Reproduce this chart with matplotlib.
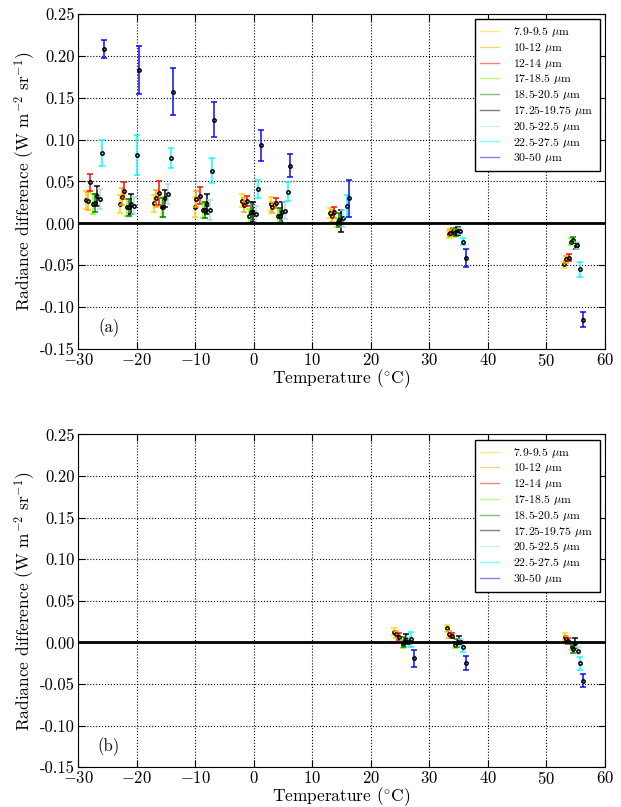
import matplotlib
matplotlib.use("Agg")
import matplotlib.pyplot as plt
import numpy as np

plt.rcParams['font.family'] = ['cmr10', 'DejaVu Serif']
plt.rcParams['mathtext.fontset'] = 'cm'
plt.rcParams['axes.formatter.use_mathtext'] = True
plt.rcParams['axes.unicode_minus'] = True

bands = ["7.9-9.5", "10-12", "12-14", "17-18.5", "18.5-20.5",
         "17.25-19.75", "20.5-22.5", "22.5-27.5", "30-50"]
colors = ["gold", "orange", "red", "chartreuse", "green",
          "black", "lightblue", "cyan", "blue"]

# (a) temperatures, radiance differences and uncertainties, one row per band
temp_a = [
    [-28.7, -22.9, -17.0, -10.1, -2.0, 2.9, 13.0, 33.3, 53.0],
    [-28.3, -22.5, -16.7, -9.8, -1.6, 3.2, 13.3, 33.6, 53.4],
    [-27.9, -22.1, -16.2, -9.2, -1.1, 3.8, 13.7, 34.0, 53.8],
    [-27.4, -21.7, -15.7, -8.7, -0.8, 4.2, 14.3, 34.3, 54.2],
    [-27.1, -21.3, -15.4, -8.3, -0.5, 4.5, 14.6, 34.6, 54.5],
    [-26.7, -20.9, -15.2, -7.95, -0.1, 4.9, 14.9, 34.9, 55.0],
    [-26.2, -20.5, -14.7, -7.5, 0.4, 5.3, 15.3, 35.3, 55.3],
    [-25.9, -20.0, -14.1, -7.1, 0.8, 5.9, 15.9, 35.8, 55.8],
    [-25.5, -19.6, -13.7, -6.75, 1.2, 6.2, 16.3, 36.2, 56.2],
]
diff_a = [
    [0.028, 0.023, 0.024, 0.020, 0.027, 0.023, 0.012, -0.013, -0.049],
    [0.027, 0.032, 0.030, 0.029, 0.022, 0.019, 0.009, -0.011, -0.043],
    [0.049, 0.039, 0.036, 0.033, 0.027, 0.024, 0.013, -0.009, -0.041],
    [0.023, 0.019, 0.020, 0.016, 0.009, 0.009, 0.001, -0.011, -0.022],
    [0.024, 0.019, 0.019, 0.016, 0.013, 0.009, 0.004, -0.010, -0.020],
    [0.033, 0.023, 0.030, 0.023, 0.014, 0.013, 0.003, -0.009, -0.027],
    [0.029, 0.021, 0.035, 0.016, 0.011, 0.015, 0.006, -0.009, -0.026],
    [0.084, 0.082, 0.078, 0.063, 0.041, 0.038, 0.021, -0.022, -0.055],
    [0.208, 0.183, 0.157, 0.124, 0.093, 0.069, 0.030, -0.041, -0.115],
]
err_a = [
    [0.011, 0.011, 0.010, 0.012, 0.008, 0.008, 0.006, 0.004, 0.004],
    [0.011, 0.010, 0.010, 0.010, 0.008, 0.007, 0.007, 0.004, 0.004],
    [0.010, 0.010, 0.014, 0.010, 0.006, 0.006, 0.006, 0.004, 0.004],
    [0.012, 0.010, 0.012, 0.010, 0.008, 0.009, 0.005, 0.005, 0.004],
    [0.011, 0.010, 0.011, 0.010, 0.012, 0.009, 0.008, 0.005, 0.004],
    [0.012, 0.012, 0.010, 0.012, 0.012, 0.013, 0.013, 0.005, 0.004],
    [0.012, 0.010, 0.012, 0.012, 0.010, 0.010, 0.010, 0.004, 0.004],
    [0.016, 0.024, 0.012, 0.015, 0.011, 0.011, 0.013, 0.004, 0.009],
    [0.011, 0.029, 0.028, 0.021, 0.018, 0.014, 0.022, 0.011, 0.009],
]

# (b) same quantities after correction
temp_b = [
    [24.0, 33.1, 53.1],
    [24.3, 33.4, 53.4],
    [24.8, 33.8, 53.7],
    [25.5, 34.4, 54.3],
    [25.7, 34.7, 54.6],
    [26.0, 35.1, 54.9],
    [26.5, 35.4, 55.4],
    [26.9, 35.8, 55.8],
    [27.3, 36.3, 56.2],
]
diff_b = [
    [0.013, 0.017, 0.007],
    [0.010, 0.010, 0.004],
    [0.007, 0.008, 0.002],
    [-0.002, -0.003, -0.005],
    [0.001, -0.001, -0.008],
    [0.004, 0.003, -0.001],
    [0.001, 0.000, -0.010],
    [0.004, -0.006, -0.025],
    [-0.019, -0.025, -0.046],
]
err_b = [
    [0.004, 0.004, 0.004],
    [0.004, 0.004, 0.004],
    [0.004, 0.003, 0.004],
    [0.005, 0.004, 0.004],
    [0.006, 0.005, 0.005],
    [0.006, 0.005, 0.006],
    [0.006, 0.004, 0.004],
    [0.009, 0.006, 0.008],
    [0.010, 0.0085, 0.008],
]


def panel(ax, temps, diffs, errs, tag):
    for band, col, t, d, e in zip(bands, colors, temps, diffs, errs):
        ax.errorbar(t, d, yerr=e, fmt="none", ecolor=col, elinewidth=1.4,
                    capsize=2.5, capthick=1.4, alpha=0.75)
        ax.plot(t, d, "o", ms=2.4, mfc="none", mec="k", mew=1.1)
        ax.plot([], [], color=col, alpha=0.5, lw=1,
                label=band + r" $\mu$m")
    ax.axhline(0, color="k", lw=2)
    ax.set_xlim(-30, 60)
    ax.set_ylim(-0.15, 0.25)
    ax.set_xticks(np.arange(-30, 61, 10))
    ax.set_yticks(np.arange(-0.15, 0.26, 0.05))
    ax.yaxis.set_major_formatter(matplotlib.ticker.FormatStrFormatter("%.2f"))
    ax.grid(True, ls=":", color="k", lw=0.8)
    ax.tick_params(direction="in", top=True, right=True, labelsize=12,
                   length=5, pad=2)
    ax.set_xlabel(r"Temperature ($^{\circ}$C)", fontsize=12.5, labelpad=-1)
    ax.set_ylabel(r"Radiance difference (W m$^{-2}$ sr$^{-1}$)", fontsize=12.5,
                  labelpad=2)
    ax.text(-24.75, -0.125, tag, fontsize=12, ha="center", va="center")
    leg = ax.legend(loc="upper right", fontsize=8.5, handlelength=1.6,
                    handletextpad=1.2, fancybox=False, edgecolor="k",
                    framealpha=1, borderaxespad=0.45, labelspacing=0.15,
                    borderpad=0.5)
    leg.get_frame().set_linewidth(1)


fig = plt.figure(figsize=(6.21, 8.07), dpi=100)
ax1 = fig.add_axes([0.1256, 0.5675, 0.8486, 0.4152])
ax2 = fig.add_axes([0.1256, 0.0492, 0.8486, 0.4124])
panel(ax1, temp_a, diff_a, err_a, "(a)")
panel(ax2, temp_b, diff_b, err_b, "(b)")

fig.savefig("out.png", dpi=100)
